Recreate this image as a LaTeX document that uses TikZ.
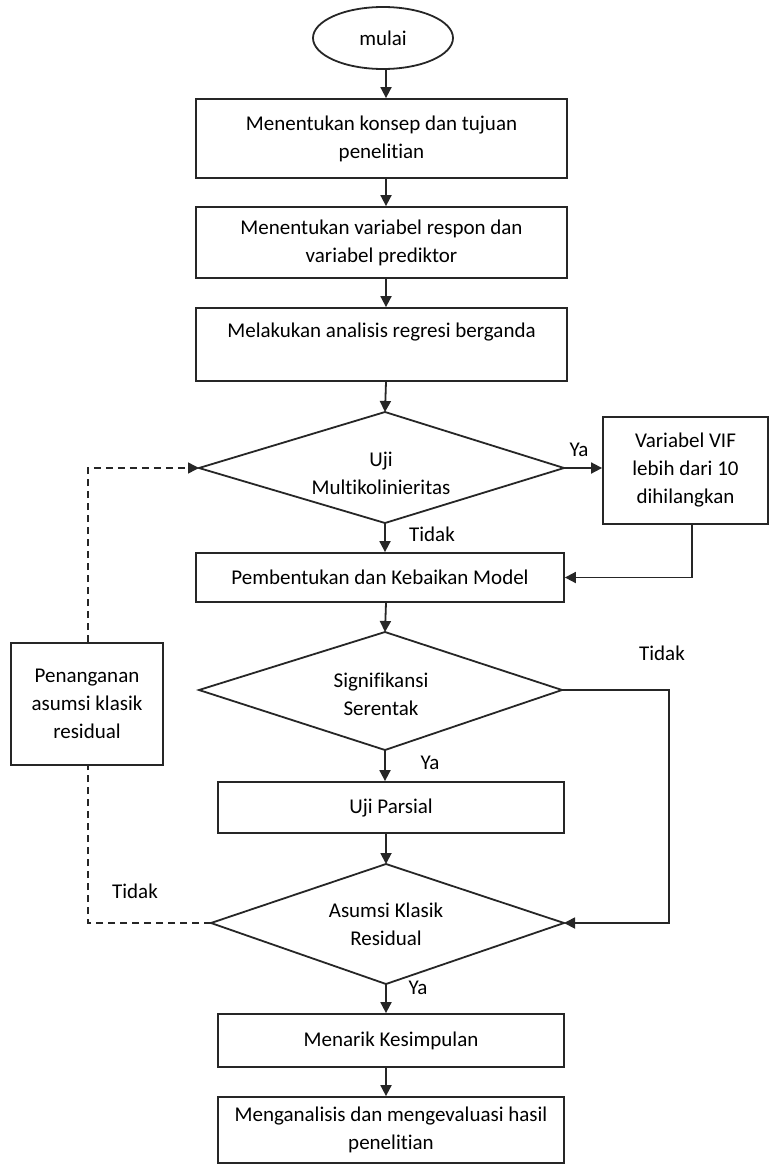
\documentclass[tikz,border=0pt]{standalone}
\usepackage{fontspec}
\setmainfont{Carlito}[Ligatures=NoCommon]
\usetikzlibrary{shapes.geometric,arrows.meta}
\begin{document}
\begin{tikzpicture}[x=1pt,y=-1pt,
  ln/.style={line width=1.8pt,draw=black!85},
  box/.style={ln,rectangle,inner sep=0pt,align=center},
  txt/.style={align=center,inner sep=0pt,font=\fontsize{21}{28}\selectfont},
  lbl/.style={inner sep=0pt,font=\fontsize{21}{24}\selectfont},
  arr/.style={ln,-{Triangle[width=11pt,length=11pt]}},
  dsh/.style={line width=1.5pt,draw=black!85,dash pattern=on 7pt off 5pt}]
\useasboundingbox (0,0) rectangle (770,1167);
\fill[white] (0,0) rectangle (770,1167);
\coordinate (ax) at (386,0);

% start
\node[ln,ellipse,minimum width=140,minimum height=62,inner sep=0pt,txt] (start) at (383,38) {mulai};
% boxes
\node[box,minimum width=371,minimum height=79,txt] (b1) at (381.5,138.5) {Menentukan konsep dan tujuan\\penelitian};
\node[box,minimum width=371,minimum height=71,txt] (b2) at (381.5,242.5) {Menentukan variabel respon dan\\variabel prediktor};
\node[box,minimum width=371,minimum height=73] (b3) at (381.5,344.5) {};
\node[txt] (b3t) at (381.5,332) {Melakukan analisis regresi berganda};

% diamond 1
\coordinate (d1l) at (199,468); \coordinate (d1r) at (564,468);
\coordinate (d1t) at (385,412); \coordinate (d1b) at (385,523);
\draw[ln,line join=miter] (d1l) -- (d1t) -- (d1r) -- (d1b) -- cycle;
\node[txt] (d1) at (381,473) {Uji\\Multikolinieritas};

\node[box,minimum width=165,minimum height=107,txt] (vif) at (685.5,470.5) {Variabel VIF\\lebih dari 10\\dihilangkan};
\node[box,minimum width=368,minimum height=49,txt] (pemb) at (380,577.5) {Pembentukan dan Kebaikan Model};

% diamond 2
\coordinate (d2l) at (199,690); \coordinate (d2r) at (562,690);
\coordinate (d2t) at (385,632); \coordinate (d2b) at (385,750);
\draw[ln,line join=miter] (d2l) -- (d2t) -- (d2r) -- (d2b) -- cycle;
\node[txt] (d2) at (381,694) {Signifikansi\\Serentak};

\node[box,minimum width=152,minimum height=122,txt] (pen) at (87,704) {Penanganan\\asumsi klasik\\residual};
\node[box,minimum width=346,minimum height=51,txt] (pars) at (391,807.5) {Uji Parsial};

% diamond 3
\coordinate (d3l) at (211,923); \coordinate (d3r) at (564,923);
\coordinate (d3t) at (386,864); \coordinate (d3b) at (386,984);
\draw[ln,line join=miter] (d3l) -- (d3t) -- (d3r) -- (d3b) -- cycle;
\node[txt] (d3) at (386,924) {Asumsi Klasik\\Residual};

\node[box,minimum width=346,minimum height=53,txt] (men) at (391,1040.5) {Menarik Kesimpulan};
\node[box,minimum width=346,minimum height=66,txt] (last) at (391,1130) {Menganalisis dan mengevaluasi hasil\\penelitian};

% connectors
\draw[arr] (start.south -| ax) -- (b1.north -| ax);
\draw[arr] (b1.south -| ax) -- (b2.north -| ax);
\draw[arr] (b2.south -| ax) -- (b3.north -| ax);
\draw[arr] (b3.south -| ax) -- (d1t);
\draw[arr] (d1r) -- (vif.west |- d1r);
\node[lbl] (ya1) at (579,450) {Ya};
\draw[arr] (d1b) -- (pemb.north -| d1b);
\node[lbl] (td1) at (432,534) {Tidak};
\coordinate (vx) at (692,0);
\draw[arr] (vif.south -| vx) -- (vx |- pemb.east) -- (pemb.east);
\draw[arr] (pemb.south -| ax) -- (d2t);
\coordinate (rx) at (669,0);
\draw[arr] (d2r) -- (rx |- d2r) -- (rx |- d3r) -- (d3r);
\node[lbl] (td2) at (662,653) {Tidak};
\draw[arr] (d2b) -- (pars.north -| d2b);
\node[lbl] (ya2) at (430,763) {Ya};
\draw[arr] (pars.south -| d3t) -- (d3t);
\draw[arr] (d3b) -- (men.north -| d3b);
\node[lbl] (ya3) at (418,988) {Ya};
\draw[arr] (men.south -| d3b) -- (last.north -| d3b);
% dashed loop
\coordinate (lx) at (88,0);
\draw[dsh] (d3l) -- (lx |- d3l) -- (pen.south -| lx);
\draw[dsh,-{Triangle[width=11pt,length=11pt]}] (pen.north -| lx) -- (lx |- d1l) -- (d1l);
\node[lbl] (td3) at (135,891) {Tidak};
\end{tikzpicture}
\end{document}
